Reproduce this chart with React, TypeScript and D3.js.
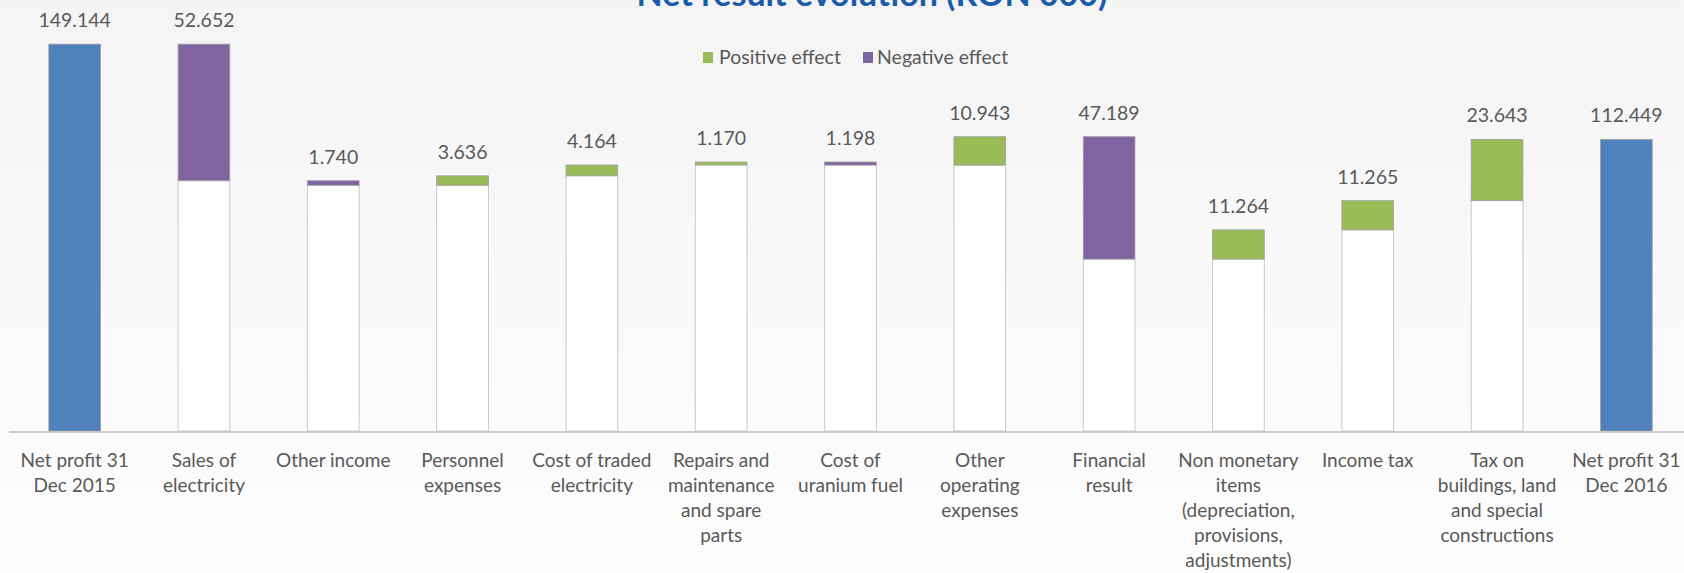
import * as d3 from "d3";

const categories: string[][] = [
  ["Net profit 31", "Dec 2015"],
  ["Sales of", "electricity"],
  ["Other income"],
  ["Personnel", "expenses"],
  ["Cost of traded", "electricity"],
  ["Repairs and", "maintenance", "and spare", "parts"],
  ["Cost of", "uranium fuel"],
  ["Other", "operating", "expenses"],
  ["Financial", "result"],
  ["Non monetary", "items", "(depreciation,", "provisions,", "adjustments)"],
  ["Income tax"],
  ["Tax on", "buildings, land", "and special", "constructions"],
  ["Net profit 31", "Dec 2016"],
];
// signed effects; first and last are totals
const values: number[] = [149.144, -52.652, -1.74, 3.636, 4.164, 1.17, -1.198, 10.943, -47.189, 11.264, 11.265, 23.643, 112.449];
const kinds: string[] = ["total", "delta", "delta", "delta", "delta", "delta", "delta", "delta", "delta", "delta", "delta", "delta", "total"];
const legendItems: string[] = ["Positive effect", "Negative effect"];

const W = 1684;
const H = 573;
const FONT = "Lato, 'Open Sans', sans-serif";
const COLORS = { total: "#4f81bd", pos: "#9bbb59", neg: "#8064a2" };

export default function App() {
  // running totals for the waterfall
  let run = 0;
  const bars = values.map((v, i) => {
    if (kinds[i] === "total") {
      run = v;
      return { i, base: 0, top: v, fill: COLORS.total, label: v };
    }
    const prev = run;
    run = prev + v;
    return {
      i,
      base: Math.min(prev, run),
      top: Math.max(prev, run),
      fill: v >= 0 ? COLORS.pos : COLORS.neg,
      label: Math.abs(v),
    };
  });

  const x = d3
    .scaleBand<number>()
    .domain(d3.range(categories.length))
    .range([10, 1691])
    .paddingInner(0.6)
    .paddingOuter(0.3);
  const y = d3.scaleLinear().domain([0, 160]).range([431, 16]);
  const bw = x.bandwidth();

  return (
    <svg width={W} height={H} style={{ position: "absolute", left: 0, top: 0 }}>
      <defs>
        <linearGradient id="bg" x1="0" y1="0" x2="0" y2="1">
          <stop offset="0" stopColor="#f4f4f4" />
          <stop offset="1" stopColor="#fdfdfd" />
        </linearGradient>
      </defs>
      <rect width={W} height={H} fill="url(#bg)" />
      <text x={872} y={6} textAnchor="middle" fontFamily={FONT} fontWeight={700} fontSize={34} fill="#1a5ca8">
        Net result evolution (RON 000)
      </text>

      {/* legend */}
      <g fontFamily={FONT} fontSize={19.5} fill="#595959">
        <rect x={703} y={52} width={10} height={11} fill={COLORS.pos} />
        <text x={719} y={64}>{legendItems[0]}</text>
        <rect x={863} y={52} width={10} height={11} fill={COLORS.neg} />
        <text x={877} y={64}>{legendItems[1]}</text>
      </g>

      {/* invisible base (white) parts */}
      {bars.map((b) =>
        b.base > 0 ? (
          <rect
            key={"b" + b.i}
            x={x(b.i)}
            y={y(b.base)}
            width={bw}
            height={y(0) - y(b.base)}
            fill="#ffffff"
            stroke="#c8c8c8"
            strokeWidth={1}
          />
        ) : null
      )}
      {bars.map((b) => (
        <rect
          key={"v" + b.i}
          x={x(b.i)}
          y={y(b.top)}
          width={bw}
          height={y(b.base) - y(b.top)}
          fill={b.fill}
          stroke="#a0a0a0"
          strokeWidth={0.8}
        />
      ))}

      <line x1={9} x2={W} y1={432} y2={432} stroke="#bfbfbf" strokeWidth={1.5} />

      <g fontFamily={FONT} fill="#595959" textAnchor="middle">
        {bars.map((b) => (
          <text key={"l" + b.i} x={(x(b.i) ?? 0) + bw / 2} y={y(b.top) - 17} fontSize={19.5}>
            {b.label.toFixed(3)}
          </text>
        ))}
        {categories.map((lines, i) => (
          <text key={"c" + i} x={(x(i) ?? 0) + bw / 2} y={467} fontSize={19}>
            {lines.map((ln, k) => (
              <tspan key={k} x={(x(i) ?? 0) + bw / 2} dy={k === 0 ? 0 : 25}>
                {ln}
              </tspan>
            ))}
          </text>
        ))}
      </g>
    </svg>
  );
}
